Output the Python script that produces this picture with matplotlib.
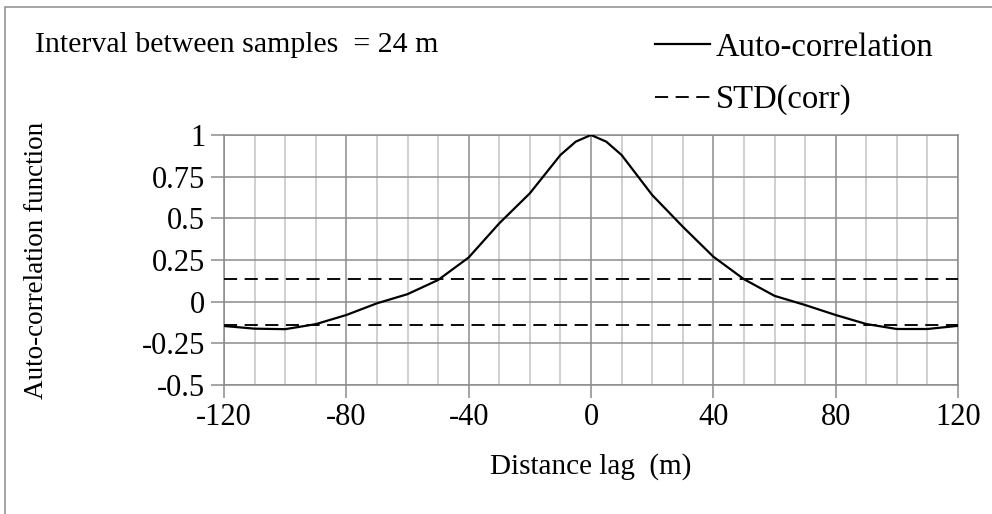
import matplotlib
matplotlib.use("Agg")
import matplotlib.pyplot as plt
from matplotlib.patches import Rectangle
from matplotlib.ticker import MultipleLocator

# ---- data ----
lag = [-120, -110, -100, -90, -80, -70, -60, -50, -40, -30, -20, -10, -5, 0,
       5, 10, 20, 30, 40, 50, 60, 70, 80, 90, 100, 110, 120]
autocorr = [-0.146, -0.162, -0.165, -0.135, -0.08, -0.01, 0.045, 0.13, 0.265, 0.47,
            0.65, 0.88, 0.96, 1.0, 0.96, 0.88, 0.64, 0.45, 0.27, 0.135, 0.035,
            -0.02, -0.08, -0.134, -0.164, -0.164, -0.145]
std_corr = 0.138
x_ticks = [-120, -80, -40, 0, 40, 80, 120]
y_ticks = [-0.5, -0.25, 0, 0.25, 0.5, 0.75, 1]
y_tick_labels = ["-0.5", "-0.25", "0", "0.25", "0.5", "0.75", "1"]
title_text = "Interval between samples  = 24 m"

plt.rcParams['font.family'] = ['Liberation Serif', 'DejaVu Serif']

W, H = 992, 514
fig = plt.figure(figsize=(W / 100, H / 100), dpi=100)
ax = fig.add_axes([224 / W, 1 - 385 / H, (958 - 224) / W, (385 - 135) / H])

major_c = '#8c8c8c'
minor_c = '#c4c4c4'

ax.plot(lag, autocorr, color='black', lw=1.6, zorder=4, label='Auto-correlation',
        solid_joinstyle='round')
ax.plot([lag[0], lag[-1]], [std_corr, std_corr], color='black', lw=1.35,
        linestyle=(0, (7, 4)), zorder=4, label='STD(corr)')
ax.plot([lag[0], lag[-1]], [-std_corr, -std_corr], color='black', lw=1.35,
        linestyle=(0, (7, 4)), zorder=4)

ax.set_xlim(-120, 120)
ax.set_ylim(-0.5, 1)
ax.set_xticks(x_ticks)
ax.set_xticklabels([str(v) for v in x_ticks])
ax.set_yticks(y_ticks)
ax.set_yticklabels(y_tick_labels)
ax.xaxis.set_minor_locator(MultipleLocator(10))

ax.grid(which='minor', axis='x', color=minor_c, lw=1.1, zorder=1)
ax.grid(which='major', axis='both', color=major_c, lw=1.1, zorder=2)
ax.set_axisbelow(True)

for s in ax.spines.values():
    s.set_color(major_c)
    s.set_linewidth(1.1)

ax.tick_params(axis='both', which='major', direction='out', length=9.5,
               width=1.1, color=major_c, labelsize=22, labelcolor='black')
ax.tick_params(axis='x', which='minor', length=0)
ax.tick_params(axis='y', pad=4)
ax.tick_params(axis='x', pad=3.5)

ax.set_xlabel("Distance lag  (m)", fontsize=21)
ax.xaxis.set_label_coords(0.5, (385 - 467) / 250)
ax.xaxis.label.set_va('center')
ax.set_ylabel("Auto-correlation function", fontsize=19.5)
ax.yaxis.set_label_coords((37 - 224) / 734, 0.5)
ax.yaxis.label.set_va('center')

fig.text(35 / W, 1 - 45 / H, title_text, fontsize=21.5, va='center', ha='left')

leg = ax.legend(loc='upper left', bbox_to_anchor=(655 / W, 1 - 32 / H),
                bbox_transform=fig.transFigure, frameon=False, fontsize=23.5,
                handlelength=1.7, handletextpad=0.15, labelspacing=0.68,
                borderpad=0, borderaxespad=0)

fig.patches.append(Rectangle((5 / W, -0.1), 2.0, (H - 7) / H + 0.1,
                             transform=fig.transFigure, fill=False,
                             edgecolor=major_c, lw=1.1))

fig.savefig("out.png", dpi=100)
